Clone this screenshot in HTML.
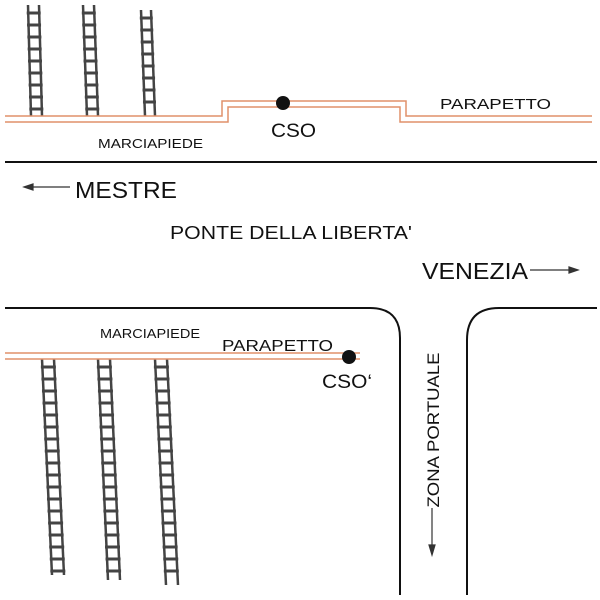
<!DOCTYPE html>
<html><head><style>body{margin:0;background:#fff}svg{display:block}</style></head>
<body>
<svg id="s" width="600" height="600" viewBox="0 0 600 600" xmlns="http://www.w3.org/2000/svg" font-family="Liberation Sans, sans-serif">
<rect width="600" height="600" fill="#fff"/>
<g id="lad" stroke="#444" fill="none"></g>
<g stroke="#e0906a" stroke-width="1.5" fill="none">
<polyline points="5,116 222,116 222,101 406,101 406,116 592,116"/>
<polyline points="5,122 228,122 228,107 400,107 400,122 592,122"/>
<polyline points="5,353 360,353"/>
<polyline points="5,359 360,359"/>
</g>
<circle cx="283" cy="103" r="7" fill="#111"/>
<circle cx="349" cy="357" r="7" fill="#111"/>
<g stroke="#111" stroke-width="2" fill="none">
<line x1="5" y1="162" x2="597" y2="162"/>
<path d="M5,308 H370 Q400,308 400,338 V595"/>
<path d="M467,595 V340 Q467,308 499,308 H597"/>
</g>
<g stroke="#333" stroke-width="1.2" fill="#333">
<line x1="30" y1="187" x2="70" y2="187"/><path d="M24,187 L33,184 L33,190Z"/>
<line x1="530" y1="270" x2="572" y2="270"/><path d="M578,270 L569,267 L569,273Z"/>
<line x1="432" y1="508" x2="432" y2="548"/><path d="M432,555 L429,545 L435,545Z"/>
</g>
<g fill="#111">
<text x="98" y="148" font-size="13" textLength="105" lengthAdjust="spacingAndGlyphs">MARCIAPIEDE</text>
<text x="440" y="109" font-size="15" textLength="111" lengthAdjust="spacingAndGlyphs">PARAPETTO</text>
<text x="271" y="137" font-size="19" textLength="45" lengthAdjust="spacingAndGlyphs">CSO</text>
<text x="75" y="198" font-size="23" textLength="102" lengthAdjust="spacingAndGlyphs">MESTRE</text>
<text x="170" y="239" font-size="18" textLength="242" lengthAdjust="spacingAndGlyphs">PONTE DELLA LIBERTA'</text>
<text x="422" y="279" font-size="23" textLength="106" lengthAdjust="spacingAndGlyphs">VENEZIA</text>
<text x="100" y="338" font-size="13" textLength="100" lengthAdjust="spacingAndGlyphs">MARCIAPIEDE</text>
<text x="222" y="351" font-size="16" textLength="111" lengthAdjust="spacingAndGlyphs">PARAPETTO</text>
<text x="322" y="388" font-size="19" textLength="50" lengthAdjust="spacingAndGlyphs">CSO‘</text>
<text transform="translate(439,430) rotate(-90)" font-size="17" text-anchor="middle" textLength="155" lengthAdjust="spacingAndGlyphs">ZONA PORTUALE</text>
</g>
</svg>
<script>
var g=document.getElementById('lad'),h='';
function lad(x1,y1,x2,y2,w,sp){
 h+='<line x1="'+x1+'" y1="'+y1+'" x2="'+x2+'" y2="'+y2+'" stroke-width="2.5"/>';
 h+='<line x1="'+(x1+w)+'" y1="'+y1+'" x2="'+(x2+w)+'" y2="'+y2+'" stroke-width="2.5"/>';
 var n=Math.floor((y2-y1)/sp);
 for(var i=1;i<=n;i++){var y=y1+i*sp-4,t=(y-y1)/(y2-y1),x=x1+(x2-x1)*t;
 h+='<line x1="'+(x-1.5)+'" y1="'+y+'" x2="'+(x+w+1.5)+'" y2="'+y+'" stroke-width="3"/>';}
}
lad(28,5,31,116,11,12);lad(83,5,87,116,11,12);lad(141,10,145,116,10,12);
lad(42,359,52,575,12,12);lad(98,359,108,580,12,12);lad(155,359,166,585,12,12);
g.innerHTML=h;
</script>
</body></html>
